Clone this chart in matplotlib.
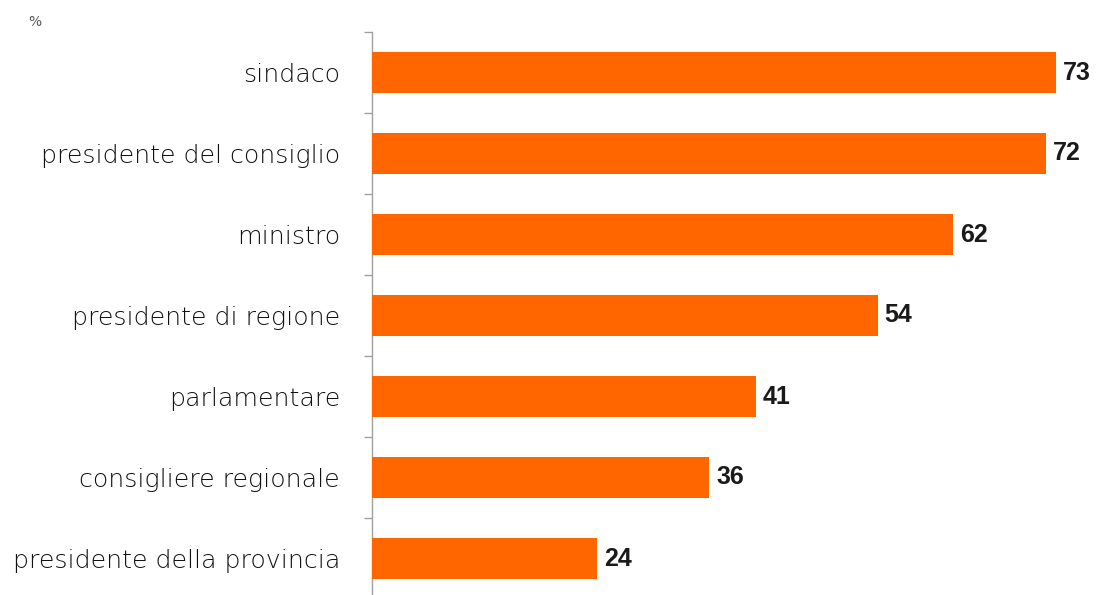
import matplotlib.pyplot as plt
import matplotlib.patheffects as pe
import numpy as np

categories = ["sindaco", "presidente del consiglio", "ministro",
              "presidente di regione", "parlamentare",
              "consigliere regionale", "presidente della provincia"]
values = [73, 72, 62, 54, 41, 36, 24]

bar_color = "#FF6600"

fig = plt.figure(figsize=(10.97, 5.95), dpi=100)
ax = fig.add_axes([372 / 1097, -4 / 595, 1 - 372 / 1097, (599 - 32) / 595])

y = np.arange(len(categories))
ax.barh(y, values, height=0.5, color=bar_color, zorder=3,
        path_effects=[pe.SimpleLineShadow(offset=(0, -1.5), shadow_color="#888888", alpha=0.5),
                      pe.Normal()])

ax.set_xlim(0, 77.4)
ax.set_ylim(len(categories) - 0.5, -0.5)

for sp in ["top", "right", "bottom"]:
    ax.spines[sp].set_visible(False)
ax.spines["left"].set_color("#a0a0a0")
ax.spines["left"].set_linewidth(1.0)

ax.set_xticks([])
ax.set_yticks(y)
ax.set_yticklabels(categories, fontsize=18.2, color="#111111",
                   fontfamily="DejaVu Sans", fontweight="light")
ax.tick_params(axis="y", which="major", length=0, pad=23)
ax.set_yticks(np.arange(-0.5, len(categories), 1.0), minor=True)
ax.tick_params(axis="y", which="minor", length=6, color="#a0a0a0", width=1.0)

for yi, v in zip(y, values):
    ax.annotate(f"{v}", xy=(v, yi), xytext=(5, 0), textcoords="offset points",
                va="center", ha="left", fontsize=18, fontweight="bold",
                color="#1a1a1a", fontfamily="Liberation Sans", annotation_clip=False)

fig.text(28 / 1097, 1 - 22 / 595, "%", fontsize=10, color="#555555", va="center", ha="left")

fig.savefig("out.png", dpi=100)
